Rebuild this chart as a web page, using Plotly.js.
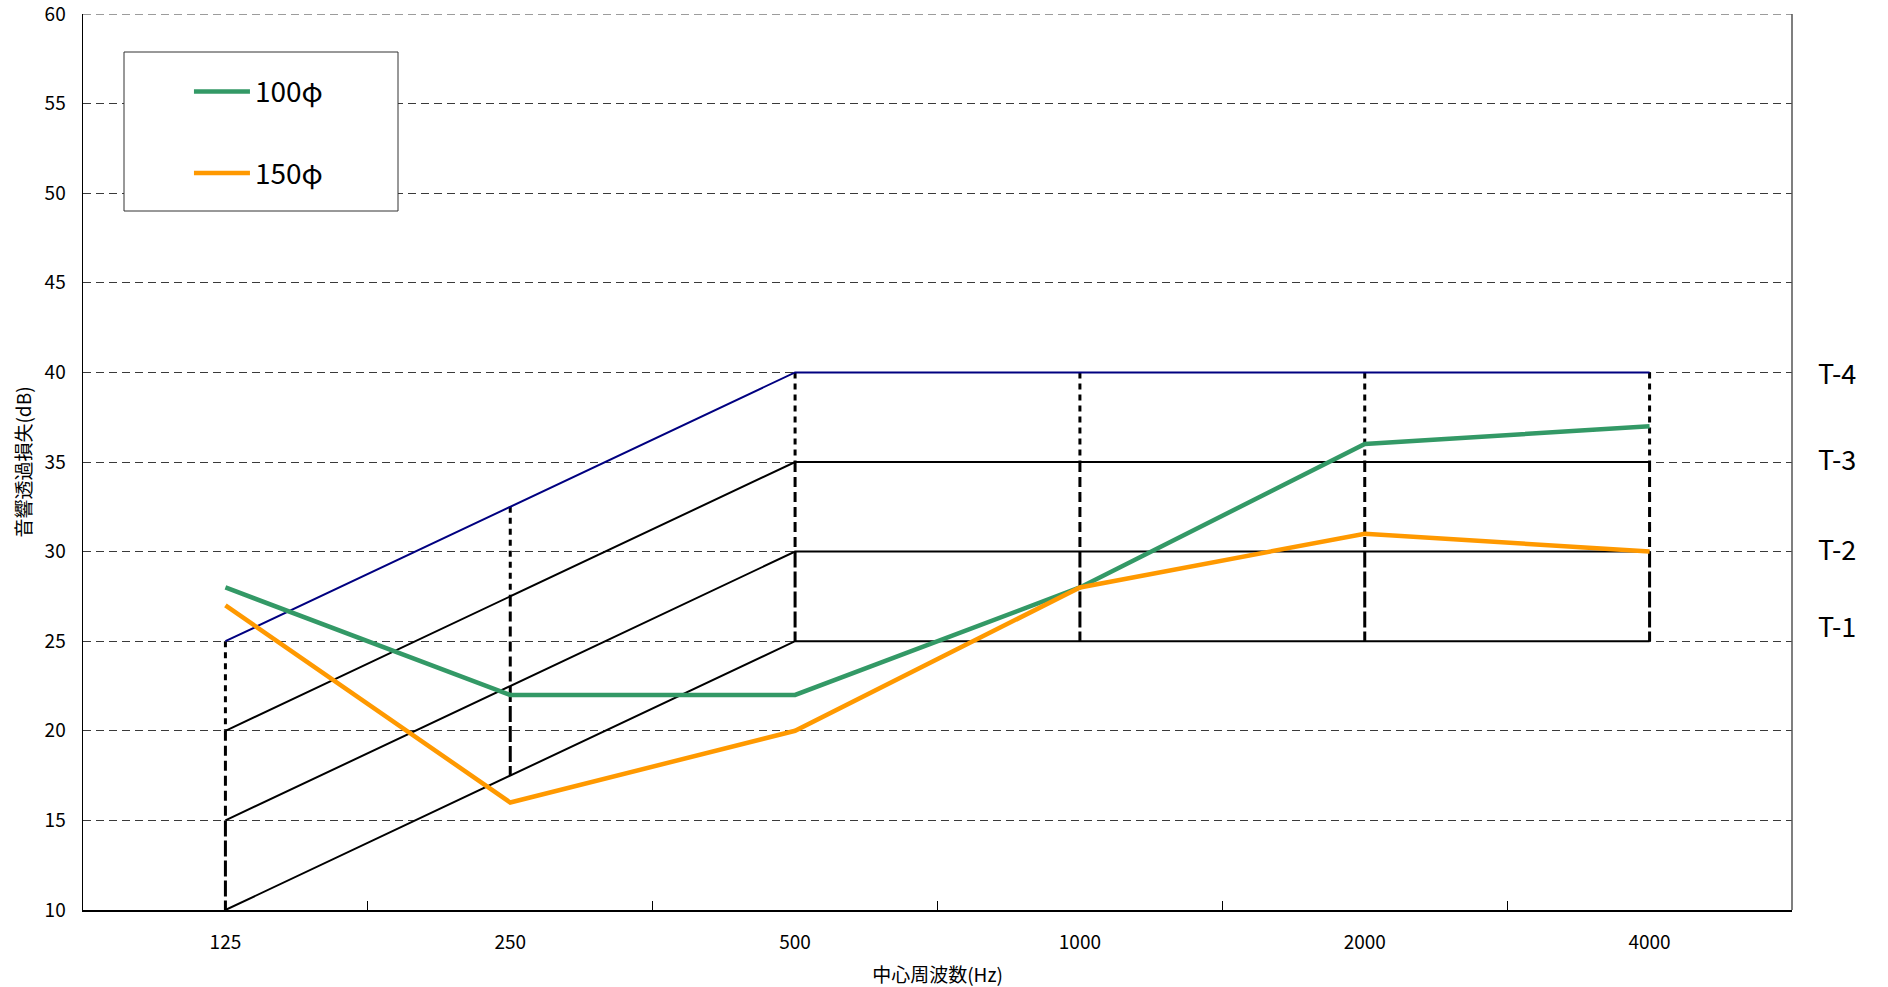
<!DOCTYPE html>
<html><head><meta charset="utf-8">
<script src="https://cdn.plot.ly/plotly-3.0.1.min.js"></script>
<style>html,body{margin:0;padding:0;background:#fff}#chart{width:1888px;height:987px}</style>
</head><body><div id="chart"></div>
<script>
const categories = ['125','250','500','1000','2000','4000'];
const series100 = [28, 22, 22, 28, 36, 37];
const series150 = [27, 16, 20, 28, 31, 30];
const t1 = [10, 17.5, 25, 25, 25, 25];
const t2 = [15, 22.5, 30, 30, 30, 30];
const t3 = [20, 27.5, 35, 35, 35, 35];
const t4 = [25, 32.5, 40, 40, 40, 40];
const tLabels = ['T-1','T-2','T-3','T-4'];
const tLabelY = [25.9, 30.2, 35.2, 40];
const yTicks = [10,15,20,25,30,35,40,45,50,55,60];
const yMin = 10, yMax = 60;

const FONT = '"Noto Sans CJK JP", "Noto Sans", sans-serif';
const GRID_DASH = '8px,5px';

function vseg(upper, lower){
  const xs=[], ys=[];
  for(let i=0;i<categories.length;i++){
    xs.push(categories[i], categories[i], null);
    ys.push(upper[i], lower[i], null);
  }
  return {xs, ys};
}
const s43 = vseg(t4, t3), s32 = vseg(t3, t2), s21 = vseg(t2, t1);

const traces = [
  {x: s43.xs, y: s43.ys, mode:'lines', line:{color:'#000', width:3, dash:'6px,5px'}, showlegend:false, hoverinfo:'skip'},
  {x: s32.xs, y: s32.ys, mode:'lines', line:{color:'#000', width:3, dash:'10px,5px'}, showlegend:false, hoverinfo:'skip'},
  {x: s21.xs, y: s21.ys, mode:'lines', line:{color:'#000', width:3, dash:'16px,4px'}, showlegend:false, hoverinfo:'skip'},
  {x: categories, y: t1, mode:'lines', line:{color:'#000', width:2}, showlegend:false, name:'T-1'},
  {x: categories, y: t2, mode:'lines', line:{color:'#000', width:2}, showlegend:false, name:'T-2'},
  {x: categories, y: t3, mode:'lines', line:{color:'#000', width:2}, showlegend:false, name:'T-3'},
  {x: categories, y: t4, mode:'lines', line:{color:'#000080', width:2}, showlegend:false, name:'T-4'},
  {x: categories, y: series100, mode:'lines', line:{color:'#339966', width:4.5}, name:'100φ', legendgroup:'a'},
  {x: categories, y: series150, mode:'lines', line:{color:'#FF9900', width:4.5}, name:'150φ', legendgroup:'b'}
];

const annotations = tLabels.map((t,i)=>({
  xref:'paper', yref:'y', x:1, y:tLabelY[i], xanchor:'left', yanchor:'middle', xshift:24,
  text:t, showarrow:false, font:{family:FONT, size:27, color:'#000'}
}));

const layout = {
  width:1888, height:987,
  margin:{l:83, r:96, t:14, b:77},
  paper_bgcolor:'#fff', plot_bgcolor:'#fff',
  font:{family:FONT, color:'#000'},
  showlegend:true,
  legend:{x:0.062, y:0.941, xanchor:'left', yanchor:'top', bgcolor:'rgba(0,0,0,0)', borderwidth:0,
          font:{family:FONT, size:28, color:'#000'}, tracegroupgap:42, itemwidth:56, traceorder:'grouped'},
  xaxis:{type:'category', range:[-0.5,5.5], showgrid:false, zeroline:false,
         showline:true, linecolor:'#000', linewidth:1.5,
         ticks:'inside', tickson:'boundaries', ticklen:9, tickcolor:'#000', tickwidth:1,
         tickfont:{family:FONT, size:19, color:'#000'}, ticklabelstandoff:15,
         title:{text:'中心周波数(Hz)', font:{family:FONT, size:19, color:'#000'}, standoff:15}, automargin:false},
  yaxis:{range:[yMin,yMax], tickvals:yTicks, ticktext:yTicks.map(String), showgrid:true, gridcolor:'#3a3a3a', gridwidth:1, griddash:GRID_DASH,
         zeroline:false, showline:true, linecolor:'#000', linewidth:1.5, ticks:'', ticklabeloverflow:'allow',
         tickfont:{family:FONT, size:19, color:'#000'}, ticklabelstandoff:12,
         title:{text:'音響透過損失(dB)', font:{family:FONT, size:19, color:'#000'}, standoff:8}, automargin:false},
  shapes:[
    {type:'line', xref:'paper', yref:'y', x0:0, x1:1, y0:yMax, y1:yMax, line:{color:'#3a3a3a', width:1, dash:GRID_DASH}, layer:'below'},
    {type:'rect', xref:'paper', yref:'paper', x0:(124-83)/1709, x1:(398-83)/1709, y0:(910-211)/896, y1:(910-52)/896,
     fillcolor:'#fff', line:{color:'#333', width:1}, layer:'above'},
    {type:'line', xref:'paper', yref:'paper', x0:1, x1:1, y0:0, y1:1, line:{color:'#555', width:1.5}}
  ],
  annotations: annotations
};

Plotly.newPlot('chart', traces, layout, {displayModeBar:false, staticPlot:true});
</script></body></html>
